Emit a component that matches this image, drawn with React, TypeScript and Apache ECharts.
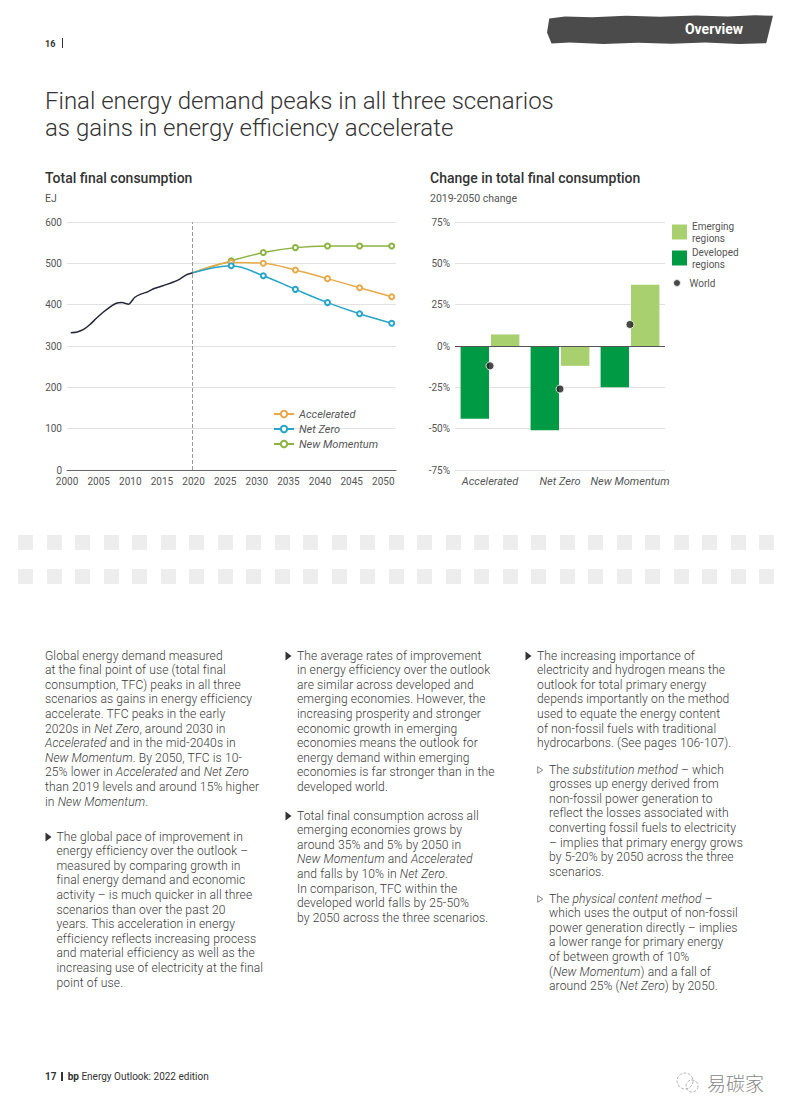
import React, { useEffect, useRef } from 'react';
import * as echarts from 'echarts';

// ---------- Data ----------
const histYears = [2000, 2001, 2002, 2003, 2004, 2005, 2006, 2007, 2008, 2009, 2010, 2011, 2012, 2013, 2014, 2015, 2016, 2017, 2018, 2019];
const histValues = [332, 334, 340, 352, 367, 381, 393, 403, 405, 401, 418, 426, 431, 439, 444, 449, 455, 462, 472, 477];
const scenarioYears = [2019, 2025, 2030, 2035, 2040, 2045, 2050];
const accelerated = [477, 502, 500, 484, 463, 441, 419];
const netZero = [477, 494, 470, 437, 405, 378, 355];
const newMomentum = [477, 506, 526, 538, 542, 542, 542];
const yearTicks = [2000, 2005, 2010, 2015, 2020, 2025, 2030, 2035, 2040, 2045, 2050];

const scenarioNames = ['Accelerated', 'Net Zero', 'New Momentum'];
const developed = [-44, -51, -25];
const emerging = [7, -12, 37];
const world = [-12, -26, 13];

// ---------- Text ----------
const col1Para = [
  'Global energy demand measured',
  'at the final point of use (total final',
  'consumption, TFC) peaks in all three',
  'scenarios as gains in energy efficiency',
  'accelerate. TFC peaks in the early',
  '2020s in *Net Zero*, around 2030 in',
  '*Accelerated* and in the mid-2040s in',
  '*New Momentum*. By 2050, TFC is 10-',
  '25% lower in *Accelerated* and *Net Zero*',
  'than 2019 levels and around 15% higher',
  'in *New Momentum*.',
];
const col1Bullet = [
  'The global pace of improvement in',
  'energy efficiency over the outlook –',
  'measured by comparing growth in',
  'final energy demand and economic',
  'activity – is much quicker in all three',
  'scenarios than over the past 20',
  'years. This acceleration in energy',
  'efficiency reflects increasing process',
  'and material efficiency as well as the',
  'increasing use of electricity at the final',
  'point of use.',
];
const col2Bullet1 = [
  'The average rates of improvement',
  'in energy efficiency over the outlook',
  'are similar across developed and',
  'emerging economies. However, the',
  'increasing prosperity and stronger',
  'economic growth in emerging',
  'economies means the outlook for',
  'energy demand within emerging',
  'economies is far stronger than in the',
  'developed world.',
];
const col2Bullet2 = [
  'Total final consumption across all',
  'emerging economies grows by',
  'around 35% and 5% by 2050 in',
  '*New Momentum* and *Accelerated*',
  'and falls by 10% in *Net Zero*.',
  'In comparison, TFC within the',
  'developed world falls by 25-50%',
  'by 2050 across the three scenarios.',
];
const col3Bullet = [
  'The increasing importance of',
  'electricity and hydrogen means the',
  'outlook for total primary energy',
  'depends importantly on the method',
  'used to equate the energy content',
  'of non-fossil fuels with traditional',
  'hydrocarbons. (See pages 106-107).',
];
const col3Sub1 = [
  'The *substitution method* – which',
  'grosses up energy derived from',
  'non-fossil power generation to',
  'reflect the losses associated with',
  'converting fossil fuels to electricity',
  '– implies that primary energy grows',
  'by 5-20% by 2050 across the three',
  'scenarios.',
];
const col3Sub2 = [
  'The *physical content method* –',
  'which uses the output of non-fossil',
  'power generation directly – implies',
  'a lower range for primary energy',
  'of between growth of 10%',
  '(*New Momentum*) and a fall of',
  'around 25% (*Net Zero*) by 2050.',
];

const FONT = 'Roboto, "Noto Sans", sans-serif';
const LH = 14.6;
const C_ACC = '#e8a94a';
const C_NZ = '#27a5c8';
const C_NM = '#8cb340';
const C_DEV = '#009a44';
const C_EME = '#a9d06e';

function renderLine(line: string) {
  const parts = line.split('*');
  return parts.map((p, i) => (i % 2 === 1 ? <i key={i}>{p}</i> : <span key={i}>{p}</span>));
}

function Para({ x, y, lines }: { x: number; y: number; lines: string[] }) {
  return (
    <div
      style={{
        position: 'absolute',
        left: x,
        top: y - LH / 2,
        fontSize: 12.1,
        letterSpacing: 0.1,
        lineHeight: LH + 'px',
        color: '#3a3a3a',
        fontWeight: 300,
        whiteSpace: 'nowrap',
      }}
    >
      {lines.map((l, i) => (
        <div key={i}>{renderLine(l)}</div>
      ))}
    </div>
  );
}

function Bullet({ x, y }: { x: number; y: number }) {
  return (
    <svg style={{ position: 'absolute', left: x, top: y - 5 }} width={7} height={10}>
      <polygon points="0.5,0.5 6.5,5 0.5,9.5" fill="#333" />
    </svg>
  );
}
function SubBullet({ x, y }: { x: number; y: number }) {
  return (
    <svg style={{ position: 'absolute', left: x, top: y - 4 }} width={7} height={8}>
      <polygon points="0.7,0.7 5.8,4 0.7,7.3" fill="none" stroke="#777" strokeWidth={0.9} />
    </svg>
  );
}

function scenarioData(vals: number[]) {
  return scenarioYears.map((yr, i) => (i === 0 ? { value: [yr, vals[i]], symbol: 'none' } : [yr, vals[i]]));
}

function lineOption(): any {
  const scen = (name: string, vals: number[], color: string) => ({
    name,
    type: 'line',
    xAxisIndex: 0,
    data: scenarioData(vals),
    smooth: 0.35,
    symbol: 'emptyCircle',
    symbolSize: 5,
    lineStyle: { color, width: 1.5 },
    itemStyle: { color, borderWidth: 1.2 },
    z: 3,
  });
  return {
    animation: false,
    textStyle: { fontFamily: FONT },
    title: {
      left: 5,
      top: 10,
      padding: 0,
      itemGap: 6,
      text: 'Total final consumption',
      subtext: 'EJ',
      textStyle: { fontSize: 14, fontWeight: 500, color: '#333', lineHeight: 16, fontFamily: FONT },
      subtextStyle: { fontSize: 10.5, color: '#555', lineHeight: 12, fontFamily: FONT },
    },
    grid: { left: 27, top: 62, width: 329, height: 248 },
    xAxis: [
      {
        type: 'value',
        min: 1999.42,
        max: 2050.67,
        position: 'bottom',
        axisLine: { show: true, onZero: false, lineStyle: { color: '#666', width: 1 } },
        axisTick: { show: false },
        axisLabel: { show: false },
        splitLine: { show: false },
      },
      {
        type: 'value',
        min: 2000,
        max: 2052,
        interval: 5,
        position: 'bottom',
        axisLine: { show: false, onZero: false },
        axisTick: { show: false },
        splitLine: { show: false },
        axisLabel: {
          fontSize: 10,
          color: '#555',
          margin: 6,
          fontFamily: FONT,
          formatter: (v: number) => (yearTicks.indexOf(v) >= 0 ? String(v) : ''),
        },
      },
    ],
    yAxis: {
      type: 'value',
      min: 0,
      max: 600,
      interval: 100,
      axisLine: { show: false },
      axisTick: { show: false },
      axisLabel: { fontSize: 10, color: '#555', margin: 5, fontFamily: FONT },
      splitLine: { lineStyle: { color: '#e2e2e2', width: 1 } },
    },
    legend: {
      left: 233,
      top: 248,
      padding: 0,
      orient: 'vertical',
      itemWidth: 20,
      itemHeight: 8,
      itemGap: 3,
      data: scenarioNames,
      textStyle: { fontSize: 11, fontStyle: 'italic', color: '#555', lineHeight: 12, fontFamily: FONT },
    },
    series: [
      {
        name: 'History',
        type: 'line',
        xAxisIndex: 0,
        data: histYears.map((y, i) => [y, histValues[i]]),
        showSymbol: false,
        smooth: 0.2,
        lineStyle: { color: '#26263a', width: 1.5 },
        itemStyle: { color: '#26263a' },
        z: 4,
        markLine: {
          silent: true,
          symbol: 'none',
          label: { show: false },
          lineStyle: { color: '#9a9a9a', type: 'dashed', width: 1 },
          data: [{ xAxis: 2019 }],
        },
      },
      scen('New Momentum', newMomentum, C_NM),
      scen('Accelerated', accelerated, C_ACC),
      scen('Net Zero', netZero, C_NZ),
    ],
  };
}

function barOption(): any {
  const leg = (name: string, top: number, w: number, h: number) => ({
    left: 252,
    top,
    padding: 0,
    orient: 'vertical',
    itemWidth: w,
    itemHeight: h,
    data: [name],
    formatter: (n: string) => n.replace(' ', '\n'),
    textStyle: { fontSize: 10, color: '#555', lineHeight: 12, fontFamily: FONT },
  });
  return {
    animation: false,
    textStyle: { fontFamily: FONT },
    title: {
      left: 10,
      top: 10,
      padding: 0,
      itemGap: 6,
      text: 'Change in total final consumption',
      subtext: '2019-2050 change',
      textStyle: { fontSize: 14, fontWeight: 500, color: '#333', lineHeight: 16, fontFamily: FONT },
      subtextStyle: { fontSize: 10.5, color: '#555', lineHeight: 12, fontFamily: FONT },
    },
    grid: { left: 35, top: 62, width: 210, height: 248 },
    xAxis: {
      type: 'category',
      data: scenarioNames,
      axisLine: { show: false, onZero: false },
      axisTick: { show: false },
      axisLabel: { fontSize: 11, fontStyle: 'italic', color: '#555', margin: 6, interval: 0, fontFamily: FONT },
    },
    yAxis: {
      type: 'value',
      min: -75,
      max: 75,
      interval: 25,
      axisLine: { show: false },
      axisTick: { show: false },
      axisLabel: { fontSize: 10, color: '#555', margin: 5, formatter: '{value}%', fontFamily: FONT },
      splitLine: { lineStyle: { color: '#e2e2e2', width: 1 } },
    },
    legend: [
      { ...leg('Emerging regions', 60, 15, 15), icon: 'rect' },
      { ...leg('Developed regions', 86, 15, 15), icon: 'rect' },
      { ...leg('World', 117, 15, 8), icon: 'circle' },
    ],
    series: [
      {
        name: 'Developed regions',
        type: 'bar',
        data: developed,
        barGap: '7%',
        barCategoryGap: '16%',
        itemStyle: { color: C_DEV },
        markLine: {
          silent: true,
          symbol: 'none',
          label: { show: false },
          lineStyle: { color: '#555', type: 'solid', width: 1 },
          data: [{ yAxis: 0 }],
        },
      },
      {
        name: 'Emerging regions',
        type: 'bar',
        data: emerging,
        itemStyle: { color: C_EME },
      },
      {
        name: 'World',
        type: 'scatter',
        data: world,
        symbolSize: 8,
        itemStyle: { color: '#1a1a1a', borderColor: '#fff', borderWidth: 1 },
        z: 5,
      },
    ],
  };
}

export default function App() {
  const lineRef = useRef<HTMLDivElement>(null);
  const barRef = useRef<HTMLDivElement>(null);

  useEffect(() => {
    const c1 = echarts.init(lineRef.current!, undefined, { renderer: 'svg' });
    c1.setOption(lineOption());
    const c2 = echarts.init(barRef.current!, undefined, { renderer: 'svg' });
    c2.setOption(barOption());
    return () => {
      c1.dispose();
      c2.dispose();
    };
  }, []);

  const squares: JSX.Element[] = [];
  [535, 569].forEach((top, r) => {
    for (let i = 0; i < 27; i++) {
      squares.push(
        <div
          key={r + '-' + i}
          style={{ position: 'absolute', left: 18 + i * 28.5, top, width: 15, height: 14.5, background: '#ededed' }}
        />
      );
    }
  });

  return (
    <div
      style={{
        position: 'absolute',
        left: 0,
        top: 0,
        width: 793,
        height: 1118,
        background: '#fff',
        overflow: 'hidden',
        fontFamily: FONT,
        color: '#333',
      }}
    >
      {/* header */}
      <div style={{ position: 'absolute', left: 45, top: 37, fontSize: 9, fontWeight: 700, color: '#333', lineHeight: '14px' }}>
        16
      </div>
      <div style={{ position: 'absolute', left: 62, top: 38, width: 1.2, height: 10, background: '#333' }} />
      <div
        style={{
          position: 'absolute',
          left: 547,
          top: 15,
          width: 226,
          height: 29,
          background: '#4b4b4b',
          clipPath:
            'polygon(1% 12%, 8% 5%, 20% 8%, 35% 3%, 50% 6%, 66% 2%, 80% 5%, 92% 1%, 100% 3%, 97% 97%, 85% 100%, 70% 95%, 55% 99%, 40% 96%, 25% 100%, 10% 95%, 2% 98%, 0% 60%)',
        }}
      />
      <div
        style={{
          position: 'absolute',
          left: 660,
          top: 20,
          width: 108,
          textAlign: 'center',
          fontSize: 14,
          fontWeight: 700,
          color: '#fff',
          lineHeight: '18px',
        }}
      >
        Overview
      </div>

      {/* title */}
      <div
        style={{
          position: 'absolute',
          left: 45,
          top: 87.5,
          fontSize: 24,
          lineHeight: '27px',
          fontWeight: 300,
          color: '#333',
          whiteSpace: 'nowrap',
        }}
      >
        <div>Final energy demand peaks in all three scenarios</div>
        <div>as gains in energy efficiency accelerate</div>
      </div>

      {/* charts */}
      <div ref={lineRef} style={{ position: 'absolute', left: 40, top: 160, width: 370, height: 340 }} />
      <div ref={barRef} style={{ position: 'absolute', left: 420, top: 160, width: 370, height: 340 }} />

      {/* decorative squares */}
      {squares}

      {/* column 1 */}
      <Para x={45} y={656} lines={col1Para} />
      <Bullet x={45} y={837} />
      <Para x={56.5} y={837} lines={col1Bullet} />

      {/* column 2 */}
      <Bullet x={285} y={656} />
      <Para x={297} y={656} lines={col2Bullet1} />
      <Bullet x={285} y={816} />
      <Para x={297} y={816} lines={col2Bullet2} />

      {/* column 3 */}
      <Bullet x={525} y={656} />
      <Para x={537} y={656} lines={col3Bullet} />
      <SubBullet x={537} y={770} />
      <Para x={549} y={770} lines={col3Sub1} />
      <SubBullet x={537} y={899} />
      <Para x={549} y={899} lines={col3Sub2} />

      {/* footer */}
      <div style={{ position: 'absolute', left: 45, top: 1071, fontSize: 10, color: '#333', lineHeight: '12px', whiteSpace: 'nowrap' }}>
        <b>17</b>
        <span style={{ display: 'inline-block', width: 1.2, height: 9, background: '#333', margin: '0 5px', verticalAlign: -1 }} />
        <b>bp</b> Energy Outlook: 2022 edition
      </div>
      <svg style={{ position: 'absolute', left: 674, top: 1070 }} width={28} height={26}>
        <circle cx={11} cy={11} r={8} fill="none" stroke="#aaa" strokeWidth={0.9} strokeDasharray="3 1.5" />
        <circle cx={18} cy={16} r={6} fill="none" stroke="#aaa" strokeWidth={0.9} strokeDasharray="3 1.5" />
      </svg>
      <div
        style={{
          position: 'absolute',
          left: 707,
          top: 1071,
          fontSize: 19,
          lineHeight: '24px',
          color: '#888',
          fontFamily: '"Noto Sans CJK SC", sans-serif',
          fontWeight: 300,
        }}
      >
        易碳家
      </div>
    </div>
  );
}
